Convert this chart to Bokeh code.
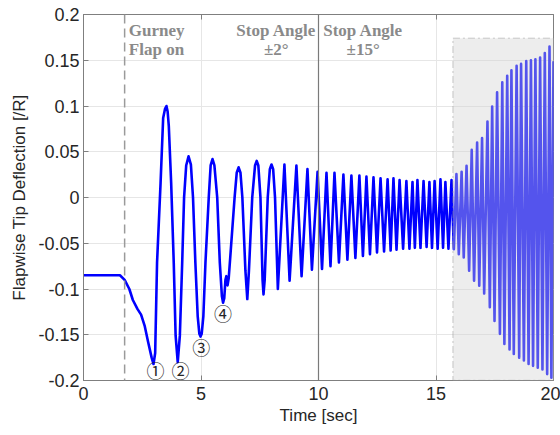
from bokeh.plotting import figure
from bokeh.models import Span, BoxAnnotation, LinearAxis, FixedTicker, CustomJSTickFormatter, ColumnDataSource
from bokeh.embed import file_html
from bokeh.resources import INLINE
from bokeh.core.properties import value

# ---- data ----
# before the flap and the first transient (time [s], deflection [/R])
t_transient = [0.0, 1.55, 1.75, 1.95, 2.1, 2.3, 2.45, 2.6, 2.75, 2.9, 2.98, 3.05, 3.13, 3.28, 3.39,
               3.47, 3.53, 3.58, 3.63, 3.73, 3.84, 3.92, 4.01, 4.10, 4.2, 4.28, 4.37, 4.47, 4.57,
               4.66, 4.76, 4.86, 4.93, 4.98, 5.03, 5.1, 5.19, 5.33, 5.41, 5.49, 5.57, 5.69, 5.8,
               5.89, 5.94, 5.99, 6.04, 6.08, 6.13, 6.18, 6.26, 6.43, 6.52, 6.6, 6.68, 6.76, 6.89,
               6.97, 7.04, 7.18, 7.3, 7.37, 7.44, 7.53, 7.62, 7.66, 7.71, 7.84, 7.93, 8.0, 8.07,
               8.15, 8.27]
y_transient = [-0.085, -0.085, -0.090, -0.100, -0.112, -0.122, -0.128, -0.140, -0.158, -0.175,
               -0.182, -0.170, -0.071, 0.016, 0.087, 0.097, 0.100, 0.094, 0.078, 0.016, -0.071,
               -0.151, -0.180, -0.151, -0.071, 0.0, 0.035, 0.045, 0.036, 0.0, -0.071, -0.130,
               -0.149, -0.152, -0.149, -0.130, -0.071, 0.0, 0.035, 0.042, 0.035, 0.0, -0.071,
               -0.108, -0.115, -0.110, -0.090, -0.086, -0.096, -0.088, -0.060, 0.0, 0.027, 0.033,
               0.027, 0.0, -0.080, -0.111, -0.080, 0.0, 0.035, 0.040, 0.035, 0.0, -0.090, -0.106,
               -0.090, 0.0, 0.031, 0.036, 0.031, 0.0, -0.100]
# settled oscillation (peaks and troughs)
t_settle = [8.55, 8.77, 9.06, 9.28, 9.53, 9.72, 9.96, 10.15, 10.34, 10.51, 10.68, 10.87, 11.06,
            11.23, 11.40, 11.57, 11.74, 11.89, 12.04, 12.19, 12.34, 12.49, 12.64, 12.79, 12.94,
            13.07, 13.19, 13.32, 13.45, 13.60, 13.74, 13.87, 14.00, 14.10, 14.21, 14.34, 14.47,
            14.60, 14.72, 14.83, 14.94, 15.07, 15.19, 15.30, 15.40, 15.53, 15.66]
y_settle = [0.036, -0.091, 0.035, -0.086, 0.031, -0.079, 0.028, -0.078, 0.027, -0.075, 0.027,
            -0.071, 0.025, -0.068, 0.024, -0.066, 0.024, -0.064, 0.023, -0.062, 0.022, -0.060,
            0.021, -0.059, 0.020, -0.058, 0.021, -0.057, 0.019, -0.056, 0.018, -0.056, 0.017,
            -0.055, 0.019, -0.055, 0.018, -0.054, 0.017, -0.055, 0.018, -0.056, 0.020, -0.055,
            0.017, -0.056, 0.019]
# growing oscillation (peaks and troughs)
t_growth = [15.76, 15.87, 15.97, 16.09, 16.18, 16.30, 16.41, 16.52, 16.62, 16.75, 16.84, 16.96,
            17.05, 17.19, 17.29, 17.39, 17.49, 17.60, 17.72, 17.82, 17.91, 18.03, 18.13, 18.21,
            18.31, 18.43, 18.54, 18.62, 18.74, 18.84, 18.94, 19.04, 19.13, 19.23, 19.33, 19.43,
            19.53, 19.63, 19.73, 19.83, 19.91, 20.0]
y_growth = [-0.0565, 0.0255, -0.062, 0.028, -0.0656, 0.0346, -0.080, 0.052, -0.091, 0.060,
            -0.0965, 0.065, -0.105, 0.083, -0.120, 0.0995, -0.135, 0.115, -0.149, 0.126, -0.160,
            0.133, -0.166, 0.139, -0.171, 0.144, -0.175, 0.146, -0.178, 0.149, -0.182, 0.150,
            -0.184, 0.151, -0.186, 0.153, -0.188, 0.158, -0.193, 0.165, -0.197, 0.149]

event_gurney = 1.75
event_stop15 = 10.0
shade_left, shade_right, shade_top, shade_bottom = 15.72, 20.3, 0.174, -0.2

phase_labels = ["Gurney", "Flap on", "Stop Angle", "±2°", "Stop Angle", "±15°"]
phase_x = [1.93, 1.93, 8.2, 8.2, 11.9, 11.9]
phase_y = [0.183, 0.162, 0.183, 0.162, 0.183, 0.162]
phase_align = ["left", "left", "center", "center", "center", "center"]

marker_labels = ["①", "②", "③", "④"]
marker_x = [3.06, 4.13, 5.01, 5.94]
marker_y = [-0.189, -0.189, -0.163, -0.126]

x_ticks = [0, 5, 10, 15, 20]
y_ticks = [-0.2, -0.15, -0.1, -0.05, 0, 0.05, 0.1, 0.15, 0.2]

# ---- figure ----
p = figure(width=560, height=435, x_range=(0, 20), y_range=(-0.2, 0.2),
           output_backend="svg", toolbar_location=None,
           min_border_left=83, min_border_right=7, min_border_top=14, min_border_bottom=55)
p.background_fill_color = "white"
p.border_fill_color = "white"
p.outline_line_color = "#7f7f7f"
p.outline_line_width = 1

font = "Liberation Sans"
for ax in (p.xaxis[0], p.yaxis[0]):
    ax.major_tick_in = 5
    ax.major_tick_out = 0
    ax.minor_tick_line_color = None
    ax.axis_line_color = "#7f7f7f"
    ax.major_tick_line_color = "#7f7f7f"
    ax.major_label_text_font = font
    ax.major_label_text_font_size = "18px"
    ax.major_label_text_color = "#262626"
    ax.axis_label_text_font = font
    ax.axis_label_text_font_size = "17px"
    ax.axis_label_text_font_style = "normal"
    ax.axis_label_text_color = "#262626"

p.xaxis.ticker = FixedTicker(ticks=x_ticks)
p.yaxis.ticker = FixedTicker(ticks=y_ticks)
p.yaxis.formatter = CustomJSTickFormatter(code="return String(Math.round(tick*100)/100);")
p.xaxis.axis_label = "Time [sec]"
p.yaxis.axis_label = "Flapwise Tip Deflection [/R]"
p.xaxis.major_label_standoff = 6
p.xaxis.axis_label_standoff = 3
p.yaxis.major_label_standoff = 4
p.yaxis.axis_label_standoff = 6

p.xgrid.ticker = FixedTicker(ticks=x_ticks)
p.ygrid.ticker = FixedTicker(ticks=y_ticks)
p.grid.grid_line_color = "#e6e6e6"
p.grid.grid_line_width = 1

# top axis with inward ticks only
top = LinearAxis(ticker=FixedTicker(ticks=x_ticks),
                 formatter=CustomJSTickFormatter(code="return '';"),
                 major_tick_in=5, major_tick_out=0, minor_tick_line_color=None,
                 axis_line_color="#7f7f7f", major_tick_line_color="#7f7f7f",
                 major_label_standoff=0, major_label_text_font_size="1px")
p.add_layout(top, "above")

# event lines
p.add_layout(Span(location=event_gurney, dimension="height", line_color="#9a9a9a",
                  line_width=1.5, line_dash="9 5"))
p.add_layout(Span(location=event_stop15, dimension="height", line_color="#7a7a7a",
                  line_width=1.2))

# signal
t_all = t_transient + t_settle + t_growth
y_all = y_transient + y_settle + y_growth
src = ColumnDataSource(dict(t=t_all, y=y_all))
p.line("t", "y", source=src, line_color="#0000ff", line_width=2.6, line_join="round")

# shaded region drawn over the signal
p.add_layout(BoxAnnotation(left=shade_left, right=shade_right, top=shade_top, bottom=shade_bottom,
                           fill_color="#d2d2d2", fill_alpha=0.4, line_color="#8c8c8c",
                           line_width=1.5, line_dash="7 3 2 3"))

# phase labels
lab_src = ColumnDataSource(dict(x=phase_x, y=phase_y, text=phase_labels, align=phase_align))
p.text("x", "y", text="text", source=lab_src, text_align="align", text_baseline="alphabetic",
       text_font=value("Liberation Serif"), text_font_style="bold", text_font_size="17px",
       text_color="#8a8a8a")

# circled markers
m_src = ColumnDataSource(dict(x=marker_x, y=marker_y, text=marker_labels))
p.text("x", "y", text="text", source=m_src, text_align="center", text_baseline="middle",
       text_font=value("Noto Sans CJK JP"), text_font_size="18px", text_color="#262626")

open("out.html", "w").write(file_html(p, INLINE))
